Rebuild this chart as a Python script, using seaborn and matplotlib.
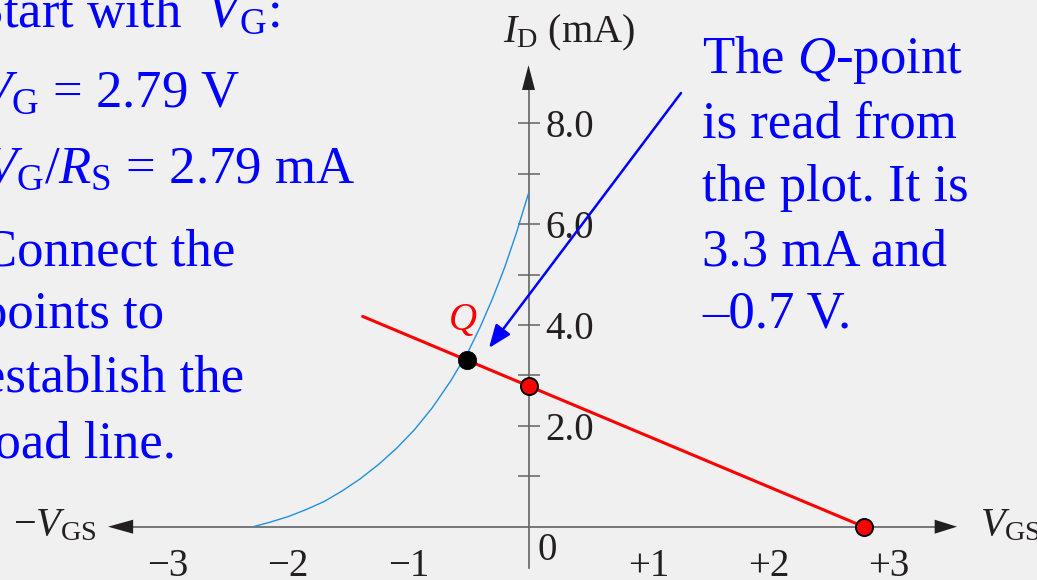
import matplotlib
matplotlib.use("Agg")
import matplotlib.pyplot as plt
from matplotlib.patches import Polygon
import seaborn as sns

# JFET transfer characteristic: V_GS (V) against I_D (mA)
vgs_curve = [-2.29, -2.15, -2.00, -1.85, -1.70, -1.55, -1.40, -1.25, -1.10,
             -0.95, -0.80, -0.65, -0.50, -0.40, -0.30, -0.20, -0.10, 0.0]
id_curve = [0.0, 0.09, 0.20, 0.34, 0.50, 0.71, 0.95, 1.23, 1.55,
            1.92, 2.36, 2.88, 3.48, 3.97, 4.52, 5.13, 5.83, 6.61]

# Self-bias load line through V_G = 2.79 V and V_G/R_S = 2.79 mA
load_vgs = [-1.38, 0.0, 2.79]
load_id = [4.17, 2.79, 0.0]
end_vgs = [0.0, 2.79]
end_id = [2.79, 0.0]

# Operating point where the load line meets the curve
q_vgs = [-0.51]
q_id = [3.3]

x_ticks = [-3, -2, -1, 1, 2, 3]
x_tick_labels = ["\u22123", "\u22122", "\u22121", "+1", "+2", "+3"]
y_ticks = [1, 2, 3, 4, 5, 6, 7, 8]
y_tick_labels = ["", "2.0", "", "4.0", "", "6.0", "", "8.0"]

BG = "#f0f0f0"
AXIS = "#636363"
INK = "#231f20"
BLUE = "#0000ff"
RED = "#ff0000"
CURVE = "#1f90e0"

sns.set_theme(style="white")
plt.rcParams["font.family"] = ["Liberation Serif", "DejaVu Serif"]
plt.rcParams["mathtext.fontset"] = "custom"
plt.rcParams["mathtext.rm"] = "Liberation Serif"
plt.rcParams["mathtext.it"] = "Liberation Serif:italic"
plt.rcParams["mathtext.bf"] = "Liberation Serif:bold"

W, H = 1037, 580
fig = plt.figure(figsize=(W / 100, H / 100), dpi=100, facecolor=BG)
ax = fig.add_axes([0, 0, 1, 1])
ax.set_facecolor(BG)

# scale: 120.17 px per volt, 50.43 px per mA, origin at pixel (528.5, 526.7)
XS, YS, X0, Y0 = 120.17, 50.43, 528.5, 526.7
ax.set_xlim(-X0 / XS, (W - X0) / XS)
ax.set_ylim((Y0 - H) / YS, Y0 / YS)

# axes through the origin
ax.spines["top"].set_visible(False)
ax.spines["right"].set_position(("data", 0))
ax.spines["right"].set_visible(False)
for side in ("left", "bottom"):
    ax.spines[side].set_position(("data", 0))
    ax.spines[side].set_color(AXIS)
    ax.spines[side].set_linewidth(1.2)
    ax.spines[side].set_zorder(1)
ax.spines["left"].set_bounds(-0.82, 8.66)
ax.spines["bottom"].set_bounds(-3.29, 3.38)

ax.set_xticks(x_ticks, x_tick_labels)
ax.set_yticks(y_ticks, y_tick_labels)
ax.tick_params(axis="x", direction="inout", length=16, width=1.1, color=AXIS,
               labelsize=28, labelcolor=INK, pad=7)
ax.tick_params(axis="y", direction="inout", length=16, width=1.1, color=AXIS,
               left=True, right=False, labelleft=False, labelright=True,
               labelsize=28, labelcolor=INK, pad=4)
ax.grid(False)

# arrowheads on the axes
def head(tip, base, half):
    tx, ty = tip
    bx, by = base
    if tx == bx:
        pts = [(tx, ty), (bx - half, by), (bx + half, by)]
    else:
        pts = [(tx, ty), (bx, by - half), (bx, by + half)]
    ax.add_patch(Polygon(pts, closed=True, color=INK, zorder=2, lw=0))

head((0, 9.153), (0, 8.66), 6.5 / XS)
head((3.566, 0), (3.38, 0), 7 / YS)
head((-3.499, 0), (-3.29, 0), 7 / YS)

# curves
sns.lineplot(x=vgs_curve, y=id_curve, sort=False, estimator=None,
             color=CURVE, linewidth=1.0, ax=ax, zorder=3)
sns.lineplot(x=load_vgs, y=load_id, sort=False, estimator=None,
             color=RED, linewidth=2.2, ax=ax, zorder=4)
sns.scatterplot(x=end_vgs, y=end_id, s=150, color=RED, edgecolor="black",
                linewidth=1.4, ax=ax, zorder=6)
sns.scatterplot(x=q_vgs, y=q_id, s=175, color="black", edgecolor="black",
                linewidth=0.5, ax=ax, zorder=6)

# annotation arrow to the Q-point
ax.annotate("", xy=(-0.329, 3.544), xytext=(1.269, 8.6),
            arrowprops=dict(arrowstyle="-|>,head_length=14,head_width=5.5",
                            mutation_scale=1, color=BLUE, lw=1.8,
                            shrinkA=0, shrinkB=0), zorder=5)

ax.text(-0.67, 3.90, "$Q$", color=RED, fontsize=28, ha="left", va="baseline")
ax.text(0.154, -0.48, "0", color=INK, fontsize=28, ha="center", va="center")

def ftext(x, y, s, **kw):
    fig.text(x / W, 1 - y / H, s, va="baseline", **kw)

# axis titles
ftext(503, 42, r"$I_{\mathrm{D}}$ (mA)", ha="left", fontsize=29, color=INK)
ftext(97, 535, r"$-V_{\mathrm{GS}}$", ha="right", fontsize=29, color=INK)
ftext(980, 535, r"$V_{\mathrm{GS}}$", ha="left", fontsize=29, color=INK)

# explanatory notes
left_lines = [
    ("Start with  $V_{\\mathrm{G}}$:", 279, 27),
    ("$V_{\\mathrm{G}}$ = 2.79 V", 240, 107),
    ("$V_{\\mathrm{G}}/R_{\\mathrm{S}}$ = 2.79 mA", 355, 183),
    ("Connect the", 235, 265),
    ("points to", 164, 328),
    ("establish the", 244, 392),
    ("load line.", 176, 457),
]
for s, x, y in left_lines:
    ftext(x, y, s, ha="right", fontsize=38, color=BLUE)

right_lines = [
    ("The $Q$-point", 73),
    ("is read from", 137),
    ("the plot. It is", 201),
    ("3.3 mA and", 265),
    ("\u20130.7 V.", 328),
]
for s, y in right_lines:
    ftext(702, y, s, ha="left", fontsize=38, color=BLUE)

fig.savefig("out.png", dpi=100, facecolor=BG)
